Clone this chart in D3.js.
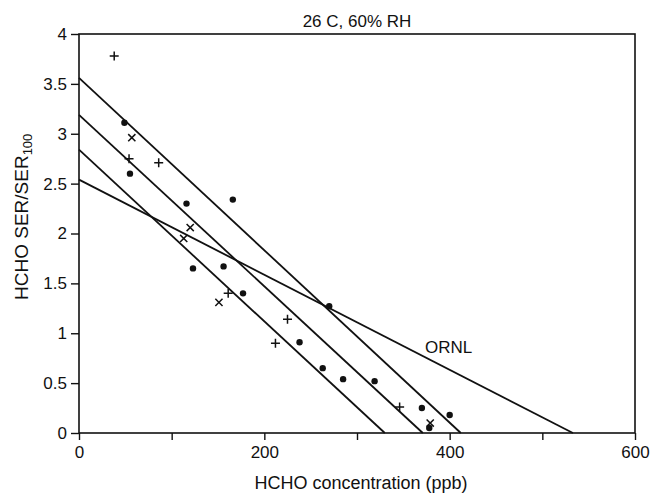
<!DOCTYPE html>
<html>
<head>
<meta charset="utf-8">
<script src="https://cdn.jsdelivr.net/npm/d3@7"></script>
<style>
  body { margin: 0; background: #fff; }
  text { font-family: "Liberation Sans", Arial, sans-serif; fill: #111; }
</style>
</head>
<body>
<div id="chart"></div>
<script>
// values
var plusX  = [38, 54, 86, 225, 212, 346, 161];
var plusY  = [3.78, 2.75, 2.71, 1.14, 0.90, 0.26, 1.40];
var crossX = [57, 120, 113, 151, 379];
var crossY = [2.96, 2.06, 1.95, 1.31, 0.10];
var dotX   = [49, 55, 116, 166, 123, 156, 177, 238, 263, 285, 319, 370, 400, 378, 270];
var dotY   = [3.11, 2.60, 2.30, 2.34, 1.65, 1.67, 1.40, 0.91, 0.65, 0.54, 0.52, 0.25, 0.18, 0.05, 1.27];

// fitted lines: value at x=0 and where they hit zero
var lineNames = ["a", "b", "c", "ORNL"];
var lineStart = [3.56, 3.19, 2.84, 2.54];
var lineEnd   = [412, 371, 330, 533];

var xTicks = [0, 100, 200, 300, 400, 500, 600];
var xTickLabels = ["0", "", "200", "", "400", "", "600"];
var yTicks = [0, 0.5, 1, 1.5, 2, 2.5, 3, 3.5, 4];

function init() {
    var width = 662, height = 499;

    var x = d3.scaleLinear().domain([0, 600]).range([79, 635]);
    var y = d3.scaleLinear().domain([0, 4]).range([433, 34]);

    var svg = d3.select("#chart").append("svg")
        .attr("width", width)
        .attr("height", height);

    // frame
    svg.append("rect")
        .attr("x", x(0)).attr("y", y(4))
        .attr("width", x(600) - x(0)).attr("height", y(0) - y(4))
        .attr("fill", "none").attr("stroke", "#111").attr("stroke-width", 1.6);

    // x axis
    var xAxis = d3.axisBottom(x).tickValues(xTicks).tickSize(7).tickPadding(6)
        .tickFormat(function (d, i) { return xTickLabels[i]; });
    var gx = svg.append("g").attr("transform", "translate(0," + y(0) + ")").call(xAxis);
    gx.select(".domain").remove();
    gx.selectAll(".tick line").attr("stroke", "#111").attr("stroke-width", 1.4);
    gx.selectAll(".tick text").attr("font-size", "17px");

    // y axis
    var yAxis = d3.axisLeft(y).tickValues(yTicks).tickSize(8).tickPadding(4)
        .tickFormat(d3.format("~g"));
    var gy = svg.append("g").attr("transform", "translate(" + x(0) + ",0)").call(yAxis);
    gy.select(".domain").remove();
    gy.selectAll(".tick line").attr("stroke", "#111").attr("stroke-width", 1.4);
    gy.selectAll(".tick text").attr("font-size", "17px");

    // regression lines
    var line = d3.line().x(function (d) { return x(d[0]); }).y(function (d) { return y(d[1]); });
    lineNames.forEach(function (n, i) {
        svg.append("path")
            .attr("d", line([[0, lineStart[i]], [lineEnd[i], 0]]))
            .attr("fill", "none").attr("stroke", "#111").attr("stroke-width", 1.8);
    });

    svg.append("text")
        .attr("x", 425).attr("y", 353)
        .attr("font-size", "17px")
        .text("ORNL");

    // markers
    var plusPts = plusX.map(function (v, i) { return [v, plusY[i]]; });
    var crossPts = crossX.map(function (v, i) { return [v, crossY[i]]; });
    var dotPts = dotX.map(function (v, i) { return [v, dotY[i]]; });

    svg.selectAll(".dot").data(dotPts).enter().append("circle")
        .attr("class", "dot")
        .attr("cx", function (d) { return x(d[0]); })
        .attr("cy", function (d) { return y(d[1]); })
        .attr("r", 3.2)
        .attr("fill", "#111");

    var s = 4.5;
    svg.selectAll(".plus").data(plusPts).enter().append("path")
        .attr("class", "plus")
        .attr("d", function (d) {
            var cx = x(d[0]), cy = y(d[1]);
            return "M" + (cx - s) + "," + cy + "H" + (cx + s) + "M" + cx + "," + (cy - s) + "V" + (cy + s);
        })
        .attr("stroke", "#111").attr("stroke-width", 1.5);

    var c = 3.6;
    svg.selectAll(".cross").data(crossPts).enter().append("path")
        .attr("class", "cross")
        .attr("d", function (d) {
            var cx = x(d[0]), cy = y(d[1]);
            return "M" + (cx - c) + "," + (cy - c) + "L" + (cx + c) + "," + (cy + c) +
                   "M" + (cx - c) + "," + (cy + c) + "L" + (cx + c) + "," + (cy - c);
        })
        .attr("stroke", "#111").attr("stroke-width", 1.5);

    // titles
    svg.append("text")
        .attr("x", 357).attr("y", 27)
        .attr("text-anchor", "middle")
        .attr("font-size", "17px")
        .text("26 C, 60% RH");

    svg.append("text")
        .attr("x", 361).attr("y", 489)
        .attr("text-anchor", "middle")
        .attr("font-size", "18px")
        .text("HCHO concentration (ppb)");

    var yt = svg.append("text")
        .attr("transform", "translate(28,300) rotate(-90)")
        .attr("font-size", "19px");
    yt.append("tspan").text("HCHO SER/SER");
    yt.append("tspan").attr("font-size", "13px").attr("dy", 4).text("100");
}
window.onload = init;
</script>
</body>
</html>
